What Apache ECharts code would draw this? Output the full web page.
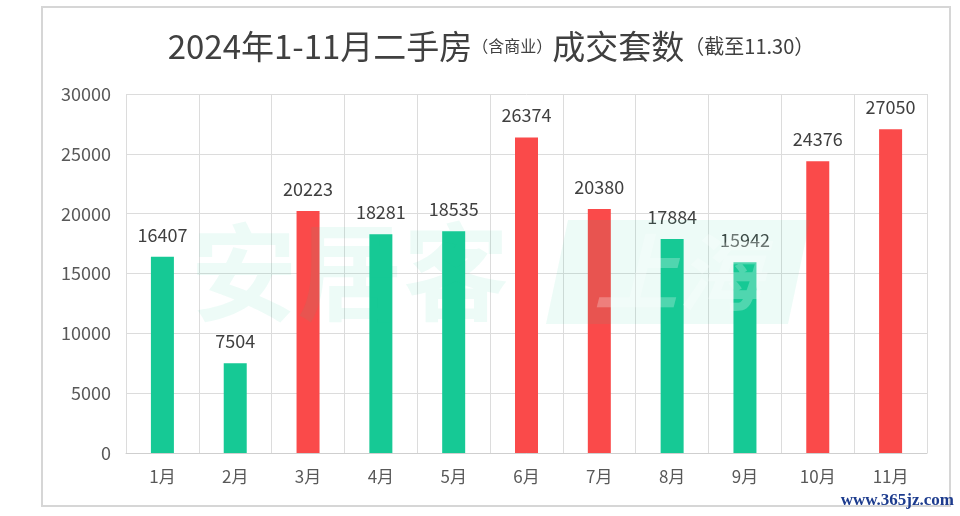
<!DOCTYPE html>
<html>
<head>
<meta charset="utf-8">
<script src="https://cdn.jsdelivr.net/npm/echarts@6/dist/echarts.min.js"></script>
<style>
html,body{margin:0;padding:0;background:#fff;}
#main{width:960px;height:516px;}
</style>
</head>
<body>
<div id="main"></div>
<script>
var categories = ['1月','2月','3月','4月','5月','6月','7月','8月','9月','10月','11月'];
var values = [16407, 7504, 20223, 18281, 18535, 26374, 20380, 17884, 15942, 24376, 27050];
var highThreshold = 20000;
var yTicks = {min: 0, max: 30000, interval: 5000};
var titleMain1 = '2024年1-11月二手房';
var titleSub1 = '（含商业）';
var titleMain2 = '成交套数';
var titleSub2 = '（截至11.30）';
var logoText = '安居客';
var logoCity = '上海';
var siteMark = 'www.365jz.com';

var GREEN = '#16c995';
var RED = '#fa4a4a';
var FONT = '"Noto Sans CJK SC", "Noto Sans", sans-serif';

var chart = echarts.init(document.getElementById('main'), null, {renderer: 'canvas'});
chart.setOption({
  backgroundColor: '#ffffff',
  animation: false,
  textStyle: {fontFamily: FONT},
  grid: {left: 126, right: 33, top: 94, bottom: 63, containLabel: false},
  xAxis: {
    type: 'category',
    data: categories,
    boundaryGap: true,
    axisLine: {show: true, lineStyle: {color: '#cfcfcf', width: 1}},
    axisTick: {show: false},
    splitLine: {show: true, lineStyle: {color: '#dcdcdc', width: 1}},
    axisLabel: {color: '#595959', fontSize: 17, margin: 15, fontFamily: FONT}
  },
  yAxis: {
    type: 'value',
    min: yTicks.min, max: yTicks.max, interval: yTicks.interval,
    axisLine: {show: false},
    axisTick: {show: false},
    splitLine: {show: true, lineStyle: {color: '#dcdcdc', width: 1}},
    axisLabel: {
      color: '#595959', fontSize: 18, margin: 15, fontFamily: FONT,
      formatter: function (v) { return String(v); }
    }
  },
  series: [{
    type: 'bar',
    data: values,
    barWidth: 23,
    itemStyle: {
      color: function (p) { return p.value > highThreshold ? RED : GREEN; }
    },
    label: {
      show: true, position: 'top', distance: 13,
      color: '#404040', fontSize: 18, fontFamily: FONT
    }
  }],
  graphic: [
    {
      type: 'rect', z: 0, silent: true,
      shape: {x: 42, y: 7, width: 908, height: 499},
      style: {fill: 'none', stroke: '#d6d6d6', lineWidth: 2}
    },
    {
      type: 'text', z: 100, silent: true,
      x: 491, y: 46,
      style: {
        text: '{a|' + titleMain1 + '}{b|' + titleSub1 + '}{a|' + titleMain2 + '}{c|' + titleSub2 + '}',
        align: 'center', verticalAlign: 'middle',
        rich: {
          a: {fontSize: 33, fill: '#404040', fontFamily: FONT},
          b: {fontSize: 16, fill: '#404040', fontFamily: FONT},
          c: {fontSize: 20, fill: '#404040', fontFamily: FONT}
        }
      }
    },
    {
      type: 'text', z: 50, silent: true,
      x: 350, y: 272,
      style: {
        text: logoText, align: 'center', verticalAlign: 'middle',
        font: 'bold 106px ' + FONT, fill: 'rgba(22,201,149,0.08)'
      }
    },
    {
      type: 'polygon', z: 50, silent: true,
      shape: {points: [[568, 220], [810, 220], [788, 324], [546, 324]], smooth: 0},
      style: {fill: 'rgba(22,201,149,0.08)'}
    },
    {
      type: 'text', z: 51, silent: true,
      x: 678, y: 272,
      style: {
        text: logoCity, align: 'center', verticalAlign: 'middle',
        font: 'italic bold 84px ' + FONT, fill: 'rgba(255,255,255,0.25)'
      }
    },
    {
      type: 'text', z: 100, silent: true,
      x: 954, y: 501,
      style: {
        text: siteMark, align: 'right', verticalAlign: 'middle',
        font: 'bold 17px "Liberation Serif", "DejaVu Serif", serif', fill: '#1d3c8e'
      }
    }
  ]
});
</script>
</body>
</html>
